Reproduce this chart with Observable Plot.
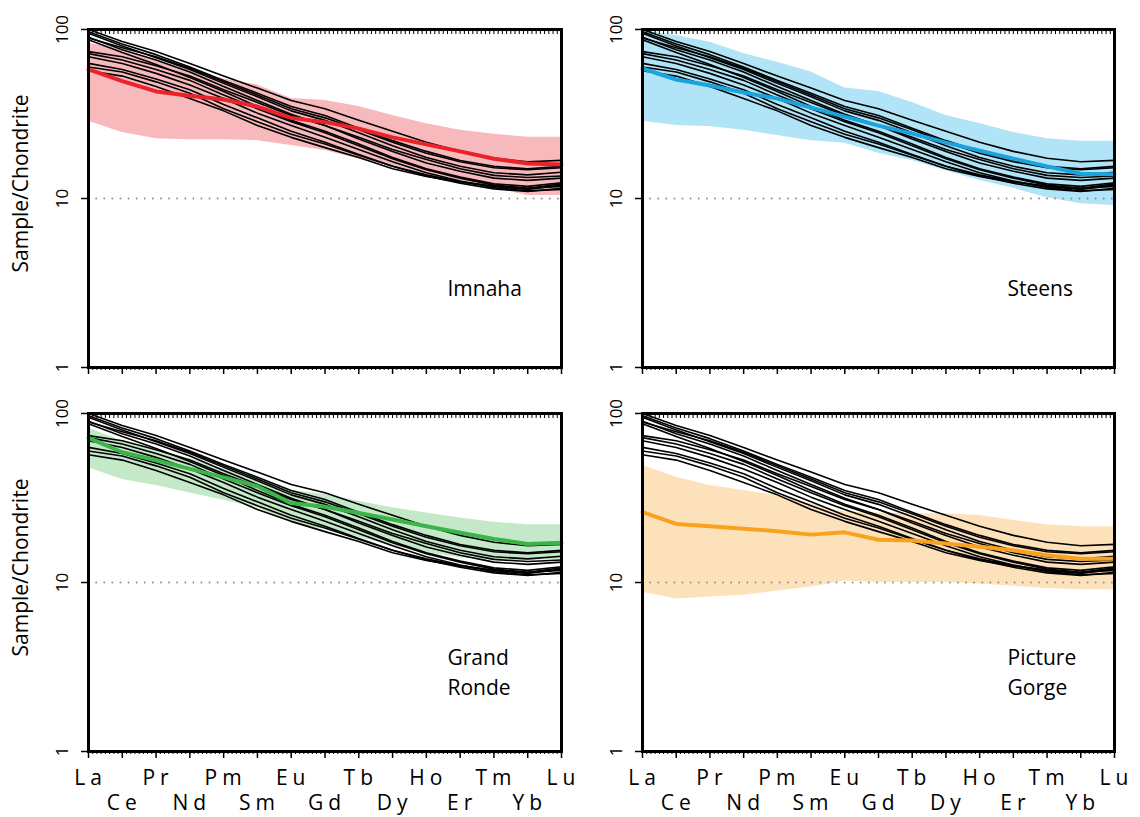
<!DOCTYPE html>
<html>
<head>
<meta charset="utf-8">
<script src="https://cdn.jsdelivr.net/npm/d3@7"></script>
<script src="https://cdn.jsdelivr.net/npm/@observablehq/plot@0.6"></script>
<style>
  body { margin: 0; background: #fff; }
  #chart { position: relative; width: 1140px; height: 817px; font-family: "Open Sans", sans-serif; }
  #chart svg { position: absolute; overflow: visible; background: transparent; }
  g[aria-label="x-axis tick label"] text { letter-spacing: 5px; }
</style>
</head>
<body>
<div id="chart"></div>
<script>
// Rare earth elements, in order along the x axis
const elements = ["La", "Ce", "Pr", "Nd", "Pm", "Sm", "Eu", "Gd", "Tb", "Dy", "Ho", "Er", "Tm", "Yb", "Lu"];

// Chondrite-normalised REE patterns of the samples (black lines, same set in every panel)
const sampleValues = [
  [100, 85, 74, 63, 53, 45, 38, 34, 29, 25, 21.5, 19, 17.3, 16.5, 16.8],
  [97, 82, 71, 60, 50, 42, 35, 31, 26, 22, 19, 16.8, 15.5, 15, 15.5],
  [95, 80, 68, 58, 48, 40, 33, 29, 24.5, 20.5, 17.5, 15.5, 14.2, 13.8, 14.3],
  [90, 76, 66, 56, 46, 38, 31.5, 27, 22.5, 19, 16.2, 14.5, 13.2, 12.8, 13.2],
  [87, 73, 62, 52, 43, 35, 29, 25, 21, 17.5, 15, 13.4, 12.2, 11.8, 12.4],
  [89, 78, 69, 59, 49, 41, 34, 30, 25.5, 21.5, 18.5, 16.5, 15.2, 14.8, 15.2],
  [74, 69, 61, 53, 44, 37, 31, 27, 23, 19.5, 17, 15, 13.7, 13.3, 13.6],
  [72, 66, 58, 50, 41, 34, 28.5, 24.5, 20.5, 17.2, 14.8, 13.2, 12.0, 11.5, 11.8],
  [69, 63, 55, 47, 39, 32, 27, 23, 19.5, 16.5, 14.2, 12.7, 11.6, 11.1, 11.3],
  [63, 58, 51, 44, 36, 30, 25, 21.5, 18.2, 15.5, 13.6, 12.3, 11.4, 11.0, 11.5],
  [60, 56, 49, 42, 34, 28.5, 24, 21, 18, 15.5, 13.8, 12.6, 11.8, 11.3, 12.0],
  [57, 53, 46, 39, 33, 27, 23, 20, 17.5, 15, 13.5, 12.5, 11.8, 11.5, 12.2]
];

// Formation medians and ranges
const imnahaMedian = [58, 49.5, 43, 40.5, 38.5, 35, 30, 28.3, 25.9, 23.0, 20.9, 19.0, 17.2, 16.1, 15.9];
const imnahaMax    = [83, 76, 66, 57, 51, 47, 39, 38, 35, 31, 27.7, 25.3, 24, 23, 23];
const imnahaMin    = [28.6, 24.6, 22.6, 22.3, 22.3, 22.0, 20.6, 19.2, 17.1, 15.5, 13.7, 12.5, 11.5, 10.4, 10.4];

const steensMedian = [58.8, 50.6, 46.6, 42.4, 39.0, 34.5, 30.5, 27.0, 24.2, 21.4, 19.2, 17.2, 15.5, 14.0, 13.9];
const steensMax    = [98, 92, 84, 72, 64, 56, 45, 43, 37, 31, 27.8, 24.6, 22.6, 21.8, 21.8];
const steensMin    = [28.6, 27, 26.7, 25.3, 23.6, 22.0, 21.2, 18.5, 16.8, 14.6, 12.8, 11.5, 10.1, 9.3, 9.1];

const grandeRondeMedian = [71.8, 59.0, 52.9, 47.0, 41.9, 37.1, 29.5, 28.1, 25.8, 23.6, 21.5, 19.7, 18.1, 16.9, 17.2];
const grandeRondeMax    = [82, 68.5, 61, 54, 47, 41, 35, 33.2, 30.3, 27.7, 25.8, 24.1, 22.7, 22, 22];
const grandeRondeMin    = [47.7, 40.7, 37.5, 33.9, 30.7, 27.7, 22.5, 20.5, 18.5, 16.5, 15, 14, 13.5, 13.5, 13.7];

const pictureGorgeMedian = [26.1, 22.2, 21.5, 20.8, 20.1, 19.2, 19.8, 17.9, 17.7, 17.0, 16.3, 15.5, 14.5, 13.8, 13.8];
const pictureGorgeMax    = [49.3, 42, 37.5, 35, 32.7, 29.2, 26.1, 25.8, 25.5, 25.5, 24.9, 23.3, 22, 21.4, 21.4];
const pictureGorgeMin    = [8.76, 8.0, 8.2, 8.4, 8.9, 9.4, 10.2, 10.0, 10.0, 10.0, 9.8, 9.5, 9.2, 9.05, 9.05];

const yTicks = [1, 10, 100];

const sampleRows = sampleValues.flatMap((vals, s) => vals.map((v, i) => ({sample: s, x: i, y: v})));

const panels = [
  {name: "Imnaha", median: imnahaMedian, min: imnahaMin, max: imnahaMax,
   line: "#e8232a", band: "#f8b9bd", left: 0, top: 0, width: 570, height: 400,
   margins: [29, 9, 33, 88], yLabel: true, xLabels: false, nameDx: 359},
  {name: "Steens", median: steensMedian, min: steensMin, max: steensMax,
   line: "#1ca2dd", band: "#b1e4f6", left: 570, top: 0, width: 570, height: 400,
   margins: [29, 26, 33, 72], yLabel: false, xLabels: false, nameDx: 365},
  {name: "Grand\nRonde", median: grandeRondeMedian, min: grandeRondeMin, max: grandeRondeMax,
   line: "#3bb54a", band: "#c4e9c8", left: 0, top: 400, width: 570, height: 417,
   margins: [13, 9, 66, 88], yLabel: true, xLabels: true, nameDx: 359},
  {name: "Picture\nGorge", median: pictureGorgeMedian, min: pictureGorgeMin, max: pictureGorgeMax,
   line: "#f8a21e", band: "#fde1bb", left: 570, top: 400, width: 570, height: 417,
   margins: [13, 26, 66, 72], yLabel: false, xLabels: true, nameDx: 365}
];

const minorTicks = d3.range(0, 14.0001, 0.125);
const majorTicks = d3.range(elements.length);

const chart = document.getElementById("chart");

for (const p of panels) {
  const medianRows = p.median.map((v, i) => ({x: i, y: v}));
  const bandRows = p.min.map((v, i) => ({x: i, lo: v, hi: p.max[i]}));
  const [mt, mr, mb, ml] = p.margins;

  const marks = [
    Plot.areaY(bandRows, {x: "x", y1: "lo", y2: "hi", fill: p.band}),
    Plot.ruleY([10], {stroke: "#8c8c8c", strokeWidth: 1.8, strokeDasharray: "0.1,8", strokeLinecap: "round"}),
    Plot.line(sampleRows, {x: "x", y: "y", z: "sample", stroke: "#000", strokeWidth: 1.6}),
    Plot.line(medianRows, {x: "x", y: "y", stroke: p.line, strokeWidth: 4}),
    Plot.axisX({ticks: minorTicks, tickSize: 3, tickFormat: () => "", label: null}),
    Plot.axisX({anchor: "top", ticks: minorTicks, tickSize: 3, dy: 4, tickFormat: () => "", label: null}),
    Plot.axisX({ticks: majorTicks, tickSize: 7, strokeWidth: 1.5, tickFormat: () => "", label: null}),
    Plot.axisY({ticks: yTicks, tickSize: 7, strokeWidth: 1.5, tickPadding: 14, tickRotate: -90,
                fontSize: 17, tickFormat: d => String(d), label: null}),
    Plot.frame({stroke: "#000", strokeWidth: 3}),
    Plot.text([p.name], {text: d => d, frameAnchor: "left", dx: p.nameDx, dy: 88,
                         textAnchor: "start", lineAnchor: "middle", fontSize: 21, lineHeight: 1.4})
  ];

  if (p.yLabel) {
    marks.push(Plot.text(["Sample/Chondrite"], {text: d => d, frameAnchor: "left", dx: -67, dy: -15,
                                                rotate: -90, textAnchor: "middle", lineAnchor: "middle",
                                                fontSize: 21}));
  }
  if (p.xLabels) {
    marks.push(Plot.axisX({ticks: majorTicks.filter(i => i % 2 === 0), tickSize: 0, tickPadding: 19,
                           fontSize: 21, dx: 2, tickFormat: i => elements[i], label: null}));
    marks.push(Plot.axisX({ticks: majorTicks.filter(i => i % 2 === 1), tickSize: 0, tickPadding: 44,
                           fontSize: 21, dx: 2, tickFormat: i => elements[i], label: null}));
  }

  const svg = Plot.plot({
    width: p.width,
    height: p.height,
    marginTop: mt,
    marginRight: mr,
    marginBottom: mb,
    marginLeft: ml,
    style: {fontFamily: "'Open Sans', sans-serif", color: "#000", background: "transparent", overflow: "visible"},
    x: {type: "linear", domain: [0, elements.length - 1]},
    y: {type: "log", domain: [1, 100]},
    marks
  });
  svg.style.left = p.left + "px";
  svg.style.top = p.top + "px";
  chart.appendChild(svg);
}
</script>
</body>
</html>
